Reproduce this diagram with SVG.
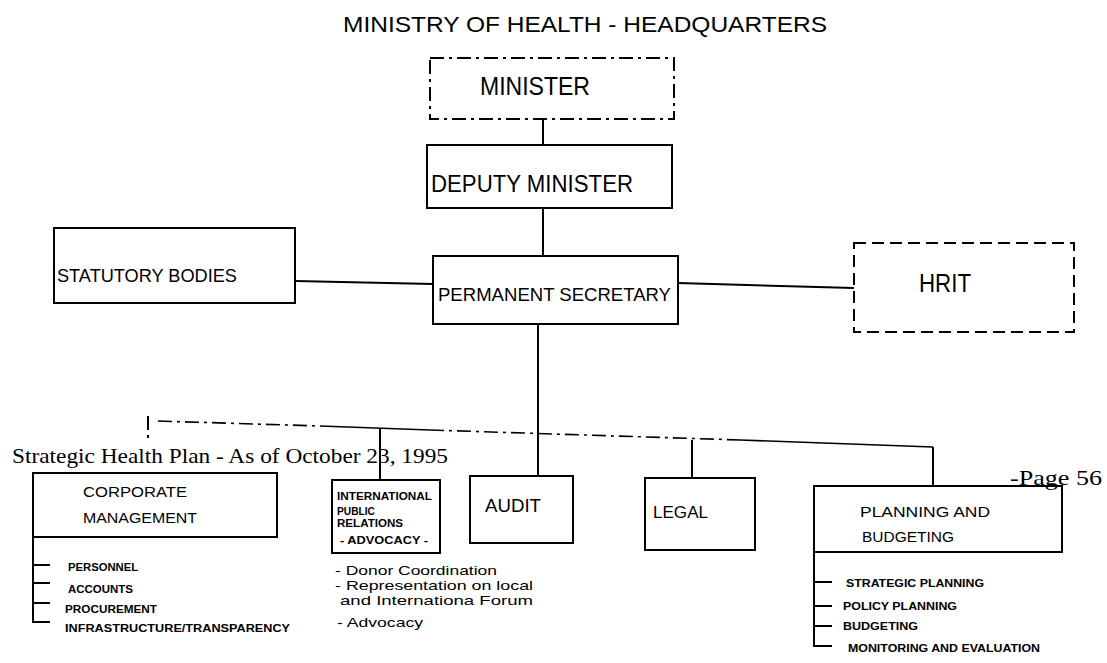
<svg xmlns="http://www.w3.org/2000/svg" width="1107" height="663" viewBox="0 0 1107 663">
<style>
  .box { fill: none; stroke: #000; stroke-width: 2; }
  .dash { stroke-dasharray: 14 5 3 5; }
  .dashed { stroke-dasharray: 12 6; }
  .ln { fill: none; stroke: #000; stroke-width: 2; }
  .bus { fill: none; stroke: #000; stroke-width: 1.6; }
  .t { font-family: "Liberation Sans", Arial, sans-serif; fill: #000; }
  .sm { font-family: "Liberation Sans", Arial, sans-serif; font-weight: bold; fill: #000; font-size: 10.5px; }
  .serif { font-family: "Liberation Serif", "Times New Roman", serif; fill: #000; }
</style>
<rect width="1107" height="663" fill="#fff"/>

<text class="t" x="343" y="32" font-size="22" textLength="484" lengthAdjust="spacingAndGlyphs">MINISTRY OF HEALTH  -  HEADQUARTERS</text>

<g id="connectors">
  <line class="ln" x1="543" y1="119" x2="543" y2="145"/>
  <line class="ln" x1="543" y1="208" x2="543" y2="255"/>
  <line class="ln" x1="295" y1="281" x2="433" y2="284"/>
  <line class="ln" x1="678" y1="283" x2="854" y2="288"/>
  <line class="ln" x1="538" y1="324" x2="538" y2="476"/>
  <polyline class="bus dash" points="158,421 320,426"/>
  <polyline class="bus" points="320,426 430,430"/>
  <polyline class="bus dash" points="430,430 740,440"/>
  <polyline class="bus" points="740,440 933,447"/>
  <line class="ln dash" x1="148" y1="416" x2="148" y2="438"/>
  <line class="ln" x1="380" y1="428" x2="380" y2="480"/>
  <line class="ln" x1="692" y1="440" x2="692" y2="478"/>
  <line class="ln" x1="933" y1="447" x2="933" y2="486"/>
</g>

<g id="minister">
  <rect class="box dash" x="430" y="58" width="244" height="61"/>
  <text class="t" x="480" y="95" font-size="25" textLength="110" lengthAdjust="spacingAndGlyphs">MINISTER</text>
</g>

<g id="deputy-minister">
  <rect class="box" x="427" y="145" width="245" height="63"/>
  <text class="t" x="431" y="192" font-size="23" textLength="202" lengthAdjust="spacingAndGlyphs">DEPUTY MINISTER</text>
</g>

<g id="statutory-bodies">
  <rect class="box" x="54" y="228" width="241" height="75"/>
  <text class="t" x="57" y="282" font-size="19" textLength="180" lengthAdjust="spacingAndGlyphs">STATUTORY BODIES</text>
</g>

<g id="permanent-secretary">
  <rect class="box" x="433" y="256" width="245" height="68"/>
  <text class="t" x="438" y="301" font-size="19" textLength="233" lengthAdjust="spacingAndGlyphs">PERMANENT SECRETARY</text>
</g>

<g id="hrit">
  <rect class="box dashed" x="854" y="243" width="220" height="89"/>
  <text class="t" x="919" y="292" font-size="25" textLength="52" lengthAdjust="spacingAndGlyphs">HRIT</text>
</g>

<text class="serif" x="12" y="463" font-size="21" textLength="436" lengthAdjust="spacingAndGlyphs">Strategic Health Plan - As of October 23, 1995</text>
<text class="serif" x="1010" y="485" font-size="21" textLength="92" lengthAdjust="spacingAndGlyphs">-Page 56</text>

<g id="corporate-management">
  <rect class="box" x="33" y="473" width="244" height="64"/>
  <text class="t" x="83" y="497" font-size="15" textLength="104" lengthAdjust="spacingAndGlyphs">CORPORATE</text>
  <text class="t" x="83" y="523" font-size="15" textLength="114" lengthAdjust="spacingAndGlyphs">MANAGEMENT</text>
  <polyline class="ln" points="33,537 33,622 50,622"/>
  <line class="ln" x1="33" y1="565" x2="50" y2="565"/>
  <line class="ln" x1="33" y1="583" x2="50" y2="583"/>
  <line class="ln" x1="33" y1="603" x2="50" y2="603"/>
  <text class="sm" x="68" y="571" textLength="70" lengthAdjust="spacingAndGlyphs">PERSONNEL</text>
  <text class="sm" x="68" y="593" textLength="65" lengthAdjust="spacingAndGlyphs">ACCOUNTS</text>
  <text class="sm" x="65" y="613" textLength="92" lengthAdjust="spacingAndGlyphs">PROCUREMENT</text>
  <text class="sm" x="65" y="632" textLength="225" lengthAdjust="spacingAndGlyphs">INFRASTRUCTURE/TRANSPARENCY</text>
</g>

<g id="international-public-relations">
  <rect class="box" x="332" y="480" width="108" height="73"/>
  <text class="sm" x="337" y="500" font-size="10" textLength="95" lengthAdjust="spacingAndGlyphs">INTERNATIONAL</text>
  <text class="sm" x="337" y="515" font-size="10" textLength="38" lengthAdjust="spacingAndGlyphs">PUBLIC</text>
  <text class="sm" x="337" y="527" font-size="10" textLength="66" lengthAdjust="spacingAndGlyphs">RELATIONS</text>
  <text class="sm" x="340" y="544" font-size="10" textLength="88" lengthAdjust="spacingAndGlyphs">- ADVOCACY -</text>
  <text class="t" x="335" y="575" font-size="13.5" textLength="162" lengthAdjust="spacingAndGlyphs">- Donor Coordination</text>
  <text class="t" x="335" y="590" font-size="13.5" textLength="198" lengthAdjust="spacingAndGlyphs">- Representation on local</text>
  <text class="t" x="340" y="605" font-size="13.5" textLength="193" lengthAdjust="spacingAndGlyphs">and Internationa Forum</text>
  <text class="t" x="337" y="627" font-size="13.5" textLength="86" lengthAdjust="spacingAndGlyphs">- Advocacy</text>
</g>

<g id="audit">
  <rect class="box" x="470" y="476" width="103" height="67"/>
  <text class="t" x="485" y="512" font-size="18" textLength="56" lengthAdjust="spacingAndGlyphs">AUDIT</text>
</g>

<g id="legal">
  <rect class="box" x="645" y="478" width="110" height="72"/>
  <text class="t" x="653" y="518" font-size="17" textLength="55" lengthAdjust="spacingAndGlyphs">LEGAL</text>
</g>

<g id="planning-and-budgeting">
  <rect class="box" x="814" y="486" width="248" height="66"/>
  <text class="t" x="860" y="517" font-size="15" textLength="130" lengthAdjust="spacingAndGlyphs">PLANNING AND</text>
  <text class="t" x="862" y="542" font-size="15" textLength="92" lengthAdjust="spacingAndGlyphs">BUDGETING</text>
  <polyline class="ln" points="814,552 814,646 832,646"/>
  <line class="ln" x1="814" y1="582" x2="832" y2="582"/>
  <line class="ln" x1="814" y1="606" x2="832" y2="606"/>
  <line class="ln" x1="814" y1="626" x2="832" y2="626"/>
  <text class="sm" x="846" y="587" textLength="138" lengthAdjust="spacingAndGlyphs">STRATEGIC PLANNING</text>
  <text class="sm" x="843" y="610" textLength="114" lengthAdjust="spacingAndGlyphs">POLICY PLANNING</text>
  <text class="sm" x="843" y="630" textLength="75" lengthAdjust="spacingAndGlyphs">BUDGETING</text>
  <text class="sm" x="848" y="652" textLength="192" lengthAdjust="spacingAndGlyphs">MONITORING AND EVALUATION</text>
</g>
</svg>
